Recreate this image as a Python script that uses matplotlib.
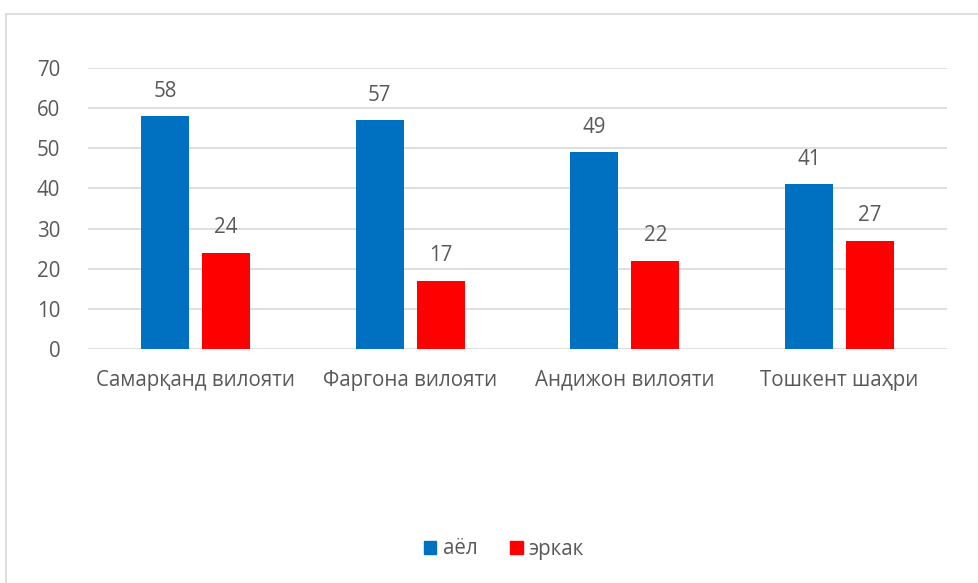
import matplotlib
matplotlib.use("Agg")
import matplotlib.pyplot as plt
import numpy as np
from matplotlib.lines import Line2D
from matplotlib.patches import Patch

categories = ["Самарқанд вилояти", "Фаргона вилояти", "Андижон вилояти", "Тошкент шаҳри"]
ayol = [58, 57, 49, 41]
erkak = [24, 17, 22, 27]
series_names = ["аёл", "эркак"]
yticks = [0, 10, 20, 30, 40, 50, 60, 70]

plt.rcParams['font.family'] = ['Open Sans', 'DejaVu Sans']
gray = '#595959'
blue = '#0070c0'
red = '#ff0000'
fs = 14.8

fig = plt.figure(figsize=(9.79, 5.83), dpi=100)
ax = fig.add_axes([88/979, 1-349/583, (947-88)/979, (349-68)/583])

x = np.arange(len(categories))
w = 0.224
off = 0.142
b1 = ax.bar(x - off, ayol, w, color=blue, zorder=3)
b2 = ax.bar(x + off, erkak, w, color=red, zorder=3)
for bars, vals in ((b1, ayol), (b2, erkak)):
    for r, v in zip(bars, vals):
        ax.annotate(str(v), (r.get_x() + r.get_width()/2, v), xytext=(0, 18),
                    textcoords='offset points', ha='center', va='center',
                    fontsize=fs, color=gray)

ax.set_xlim(-0.5, len(categories) - 0.5)
ax.set_ylim(0, 70)
ax.set_yticks(yticks)
ax.set_xticks(x)
ax.set_xticklabels(categories)
ax.tick_params(axis='both', length=0, labelsize=fs, labelcolor=gray)
ax.tick_params(axis='y', pad=20)
ax.tick_params(axis='x', pad=15)
for s in ax.spines.values():
    s.set_visible(False)
ax.grid(axis='y', color='#d9d9d9', linewidth=1.2, zorder=0)
ax.set_axisbelow(True)

handles = [Patch(color=blue), Patch(color=red)]
fig.legend(handles, series_names, loc='center', bbox_to_anchor=(504/979, 1-549/583),
           ncol=2, frameon=False, fontsize=fs, labelcolor=gray,
           handlelength=0.6, handleheight=0.6, handletextpad=0.3, columnspacing=1.6)

# outer chart border (partially visible)
fig.add_artist(Line2D([6/979, 6/979], [0, 1-14/583], color='#d9d9d9', lw=1.2, transform=fig.transFigure))
fig.add_artist(Line2D([6/979, 1], [1-14/583, 1-14/583], color='#d9d9d9', lw=1.2, transform=fig.transFigure))

fig.savefig('out.png', dpi=100)
